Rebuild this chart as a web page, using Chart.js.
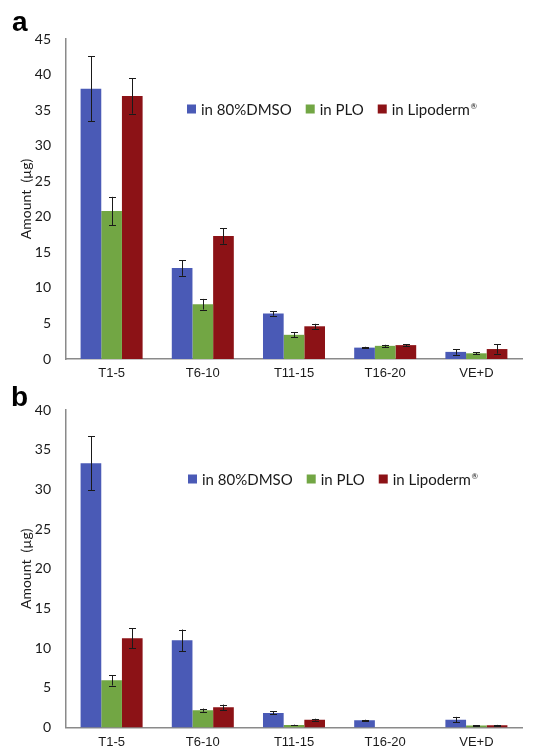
<!DOCTYPE html>
<html><head><meta charset="utf-8">
<script src="https://cdn.jsdelivr.net/npm/chart.js@4.4.0/dist/chart.umd.min.js"></script>
<style>
html,body{margin:0;padding:0;background:#fff;}
body{width:548px;height:751px;position:relative;overflow:hidden;}
.panel{position:absolute;left:0;width:548px;}
.lbl{position:absolute;font:bold 28px "Liberation Sans",Arial,sans-serif;line-height:1;color:#000;}
</style></head><body>
<div class="panel" style="top:0;height:385px"><canvas id="ca"></canvas></div>
<div class="panel" style="top:385px;height:366px"><canvas id="cb"></canvas></div>
<div class="lbl" style="left:12px;top:8px">a</div>
<div class="lbl" style="left:11px;top:383px">b</div>
<script>
const categories = ['T1-5', 'T6-10', 'T11-15', 'T16-20', 'VE+D'];
const seriesLabels = ['in 80%DMSO', 'in PLO', 'in Lipoderm®'];
const seriesColors = ['#4a5ab6', '#72a644', '#8c1216'];

// Panel a
const aDMSO    = [38.0, 12.8, 6.4, 1.6, 1.0];
const aPLO     = [20.8, 7.7, 3.4, 1.85, 0.8];
const aLipo    = [37.0, 17.3, 4.6, 1.95, 1.4];
const aDMSOErr = [4.6, 1.1, 0.3, 0.12, 0.4];
const aPLOErr  = [2.0, 0.75, 0.35, 0.15, 0.15];
const aLipoErr = [2.5, 1.1, 0.35, 0.15, 0.65];
const aYMax = 45;

// Panel b
const bDMSO    = [33.3, 11.0, 1.85, 0.92, 1.0];
const bPLO     = [5.95, 2.2, 0.33, 0, 0.25];
const bLipo    = [11.25, 2.55, 1.0, 0, 0.3];
const bDMSOErr = [3.4, 1.35, 0.2, 0.07, 0.35];
const bPLOErr  = [0.65, 0.2, 0.04, 0, 0.04];
const bLipoErr = [1.25, 0.35, 0.12, 0, 0.04];
const bYMax = 40;

const yStep = 5;
const yTitle = 'Amount  (µg)';

const errorBarPlugin = {
  id: 'errorBars',
  afterDatasetsDraw(chart) {
    const ctx = chart.ctx, ys = chart.scales.y;
    ctx.save();
    ctx.strokeStyle = '#1a1a1a';
    ctx.lineWidth = 1;
    chart.data.datasets.forEach((ds, i) => {
      const meta = chart.getDatasetMeta(i);
      meta.data.forEach((el, j) => {
        const v = ds.data[j], e = ds.errors[j];
        if (!e) return;
        const x = Math.round(el.x) + 0.5;
        const yt = ys.getPixelForValue(v + e), yb = ys.getPixelForValue(Math.max(0, v - e));
        ctx.beginPath();
        ctx.moveTo(x, yt); ctx.lineTo(x, yb);
        ctx.moveTo(x - 3.5, Math.round(yt) + 0.5); ctx.lineTo(x + 3.5, Math.round(yt) + 0.5);
        ctx.moveTo(x - 3.5, Math.round(yb) + 0.5); ctx.lineTo(x + 3.5, Math.round(yb) + 0.5);
        ctx.stroke();
      });
    });
    ctx.restore();
  }
};

const legendPlugin = {
  id: 'inlineLegend',
  afterDraw(chart, args, opts) {
    const ctx = chart.ctx;
    ctx.save();
    ctx.textBaseline = 'middle';
    let x = opts.x;
    const y = opts.y, box = 9;
    chart.data.datasets.forEach((ds) => {
      ctx.fillStyle = ds.backgroundColor;
      ctx.fillRect(x, y - box / 2, box, box);
      x += box + 5;
      ctx.fillStyle = '#1a1a1a';
      let label = ds.label, sup = '';
      if (label.endsWith('®')) { sup = '®'; label = label.slice(0, -1); }
      ctx.font = '15px Lato, sans-serif';
      ctx.fillText(label, x, y + 1);
      x += ctx.measureText(label).width;
      if (sup) {
        ctx.font = '8px Lato, sans-serif';
        ctx.fillText(sup, x + 0.5, y - 3);
        x += ctx.measureText(sup).width + 0.5;
      }
      x += 14;
    });
    ctx.restore();
  }
};

function makeChart(id, vals, errs, yMax, canvasH, padTop, bottomPx, legendPos) {
  const datasets = seriesLabels.map((lab, i) => ({
    label: lab,
    data: vals[i],
    errors: errs[i],
    backgroundColor: seriesColors[i],
    borderWidth: 0,
    categoryPercentage: 0.68,
    barPercentage: 1.0
  }));
  return new Chart(document.getElementById(id), {
    type: 'bar',
    data: { labels: categories, datasets },
    options: {
      responsive: true,
      maintainAspectRatio: false,
      animation: false,
      layout: { padding: { top: padTop, right: 26, left: 0, bottom: 0 } },
      plugins: {
        legend: { display: false },
        tooltip: { enabled: false },
        inlineLegend: legendPos
      },
      scales: {
        x: {
          grid: { display: false, drawTicks: false },
          border: { color: '#8a8a8a', width: 1.5 },
          ticks: { font: { family: '"Liberation Sans", Arial, sans-serif', size: 13 }, color: '#1a1a1a', padding: 7, maxRotation: 0, autoSkip: false },
          afterFit: (s) => { s.height = canvasH - bottomPx; }
        },
        y: {
          min: 0, max: yMax,
          grid: { display: false, drawTicks: false },
          border: { color: '#8a8a8a', width: 1.5 },
          ticks: { stepSize: yStep, font: { family: 'Lato, sans-serif', size: 14 }, color: '#1a1a1a', padding: 15 },
          title: { display: true, text: yTitle, font: { family: 'Lato, sans-serif', size: 14 }, color: '#1a1a1a', padding: { top: 18, bottom: 0 } },
          afterFit: (s) => { s.width = 66; }
        }
      }
    },
    plugins: [errorBarPlugin, legendPlugin]
  });
}

makeChart('ca', [aDMSO, aPLO, aLipo], [aDMSOErr, aPLOErr, aLipoErr], aYMax, 385, 39, 359, { x: 187, y: 109 });
makeChart('cb', [bDMSO, bPLO, bLipo], [bDMSOErr, bPLOErr, bLipoErr], bYMax, 366, 25, 345, { x: 188, y: 94 });
</script>
</body></html>
